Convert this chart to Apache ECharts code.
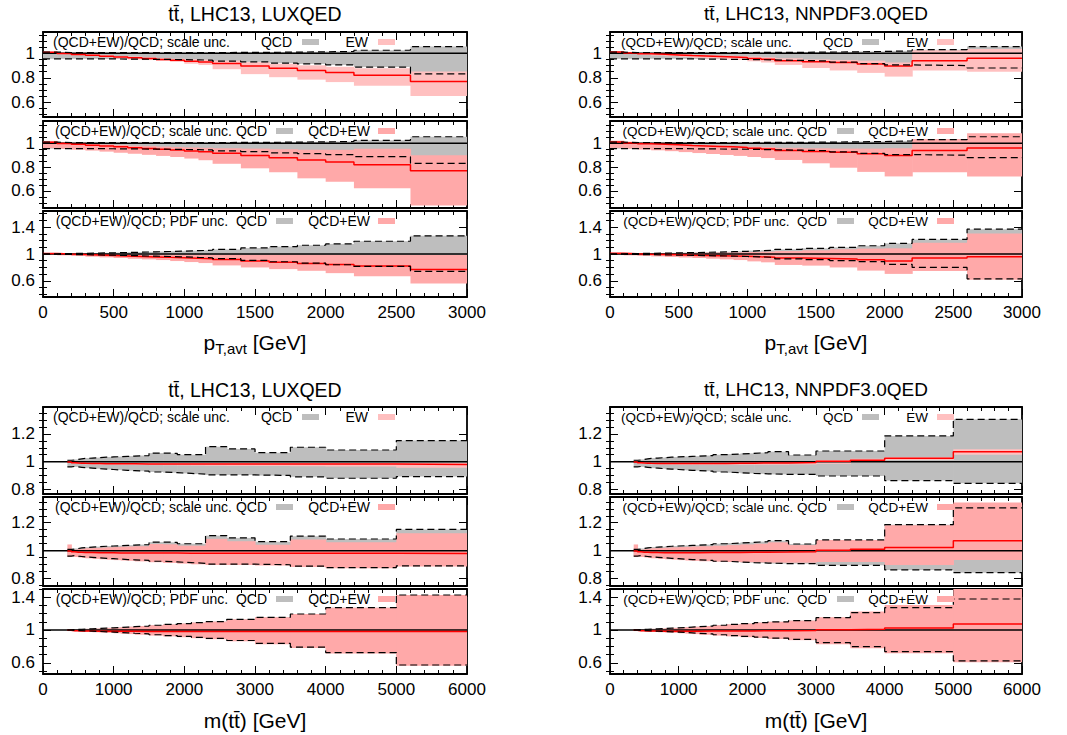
<!DOCTYPE html>
<html><head><meta charset="utf-8">
<script src="https://cdn.jsdelivr.net/npm/echarts@6/dist/echarts.min.js"></script>
<style>html,body{margin:0;padding:0;background:#fff}#c{width:1067px;height:735px}</style>
</head><body><div id="c"></div>
<script>
// ---------------- DATA ----------------
const ptEdges = [0,100,200,300,400,500,600,700,800,900,1000,1100,1200,1400,1600,1800,2000,2200,2600,3000];
const mEdges = [345,400,450,500,550,600,700,800,900,1000,1100,1200,1300,1500,1700,1900,2100,2300,2600,3000,3500,4000,5000,6000];

// LUXQED, pT,avt
const luxPtCentral  = [1.008,0.999,0.991,0.984,0.977,0.970,0.963,0.957,0.950,0.944,0.936,0.929,0.917,0.897,0.878,0.860,0.843,0.820,0.770];
const luxPtScaleLo  = [0.955,0.955,0.955,0.955,0.954,0.953,0.952,0.951,0.950,0.948,0.946,0.944,0.936,0.930,0.920,0.913,0.905,0.888,0.832];
const luxPtScaleHi  = [1.010,1.006,1.005,1.005,1.005,1.005,1.005,1.005,1.005,1.006,1.006,1.006,1.007,1.008,1.010,1.012,1.015,1.025,1.055];
const luxPtEwLo     = [1.000,0.992,0.984,0.976,0.968,0.960,0.952,0.945,0.938,0.931,0.915,0.905,0.870,0.830,0.805,0.785,0.765,0.735,0.652];
const luxPtEwHi     = [1.014,1.005,0.998,0.991,0.985,0.979,0.973,0.967,0.961,0.956,0.952,0.948,0.940,0.928,0.915,0.902,0.890,0.878,0.852];
const luxPtScaleEwLo= [0.960,0.953,0.946,0.939,0.930,0.921,0.912,0.903,0.894,0.885,0.872,0.858,0.828,0.790,0.757,0.706,0.678,0.622,0.477];
const luxPtScaleEwHi= [1.020,1.010,1.002,0.996,0.990,0.985,0.980,0.976,0.972,0.968,0.965,0.962,0.958,0.955,0.950,0.946,0.945,0.955,0.900];
const luxPtPdfLo    = [0.996,0.993,0.990,0.986,0.982,0.978,0.973,0.968,0.963,0.957,0.950,0.944,0.930,0.905,0.885,0.865,0.840,0.815,0.740];
const luxPtPdfHi    = [1.004,1.007,1.010,1.014,1.018,1.022,1.027,1.032,1.037,1.043,1.050,1.056,1.068,1.090,1.110,1.130,1.150,1.190,1.270];
const luxPtPdfEwLo  = [0.990,0.980,0.970,0.960,0.950,0.940,0.930,0.920,0.910,0.895,0.880,0.865,0.830,0.800,0.775,0.750,0.715,0.670,0.560];
const luxPtPdfEwHi  = [1.010,1.004,1.000,0.998,0.996,0.994,0.992,0.990,0.990,0.990,0.990,0.990,0.990,0.990,0.990,0.990,0.990,0.990,0.985];

// NNPDF3.0QED, pT,avt
const nnPtCentral   = [1.010,1.003,0.997,0.992,0.987,0.982,0.978,0.974,0.970,0.965,0.958,0.952,0.940,0.932,0.924,0.913,0.897,0.940,0.960];
const nnPtScaleLo   = [0.955,0.955,0.955,0.955,0.955,0.954,0.953,0.952,0.951,0.950,0.948,0.946,0.942,0.937,0.928,0.915,0.905,0.900,0.880];
const nnPtScaleHi   = [1.010,1.006,1.005,1.005,1.005,1.005,1.005,1.005,1.006,1.006,1.007,1.007,1.008,1.010,1.012,1.015,1.020,1.030,1.055];
const nnPtEwLo      = [1.002,0.995,0.988,0.982,0.976,0.970,0.964,0.958,0.952,0.946,0.935,0.925,0.905,0.880,0.860,0.840,0.810,0.860,0.850];
const nnPtEwHi      = [1.016,1.008,1.002,0.998,0.994,0.990,0.987,0.984,0.981,0.978,0.973,0.968,0.960,0.950,0.946,0.940,0.925,1.025,1.035];
const nnPtScaleEwLo = [0.962,0.955,0.948,0.941,0.934,0.926,0.918,0.910,0.902,0.894,0.885,0.876,0.860,0.832,0.795,0.760,0.722,0.758,0.722];
const nnPtScaleEwHi = [1.022,1.013,1.006,1.000,0.995,0.991,0.987,0.983,0.980,0.977,0.972,0.968,0.962,0.958,0.955,0.955,0.958,1.036,1.084];
const nnPtPdfLo     = [0.996,0.993,0.990,0.987,0.984,0.980,0.976,0.972,0.968,0.963,0.957,0.950,0.926,0.915,0.900,0.886,0.847,0.800,0.630];
const nnPtPdfHi     = [1.004,1.007,1.010,1.013,1.017,1.021,1.025,1.029,1.034,1.040,1.050,1.056,1.069,1.084,1.099,1.123,1.158,1.217,1.370];
const nnPtPdfEwLo   = [0.990,0.980,0.972,0.964,0.956,0.948,0.940,0.930,0.920,0.910,0.890,0.876,0.837,0.827,0.800,0.753,0.704,0.748,0.615];
const nnPtPdfEwHi   = [1.012,1.010,1.010,1.012,1.014,1.016,1.018,1.020,1.022,1.025,1.030,1.035,1.045,1.055,1.070,1.080,1.084,1.168,1.306];

// LUXQED, m(tt)
const luxMCentral   = [0.998,0.992,0.990,0.989,0.988,0.987,0.986,0.985,0.985,0.984,0.984,0.984,0.983,0.983,0.983,0.982,0.982,0.982,0.982,0.982,0.982,0.982,0.980];
const luxMScaleLo   = [0.962,0.965,0.962,0.959,0.956,0.953,0.949,0.946,0.943,0.940,0.937,0.935,0.931,0.925,0.920,0.915,0.910,0.904,0.904,0.900,0.890,0.880,0.892];
const luxMScaleHi   = [1.010,1.012,1.016,1.020,1.023,1.026,1.029,1.032,1.034,1.036,1.038,1.040,1.044,1.062,1.060,1.050,1.050,1.108,1.092,1.065,1.104,1.084,1.152];
const luxMEwLo      = [0.990,0.986,0.984,0.983,0.982,0.981,0.980,0.979,0.978,0.977,0.976,0.976,0.975,0.974,0.973,0.972,0.971,0.970,0.969,0.968,0.966,0.964,0.955];
const luxMEwHi      = [1.004,0.997,0.995,0.994,0.993,0.993,0.992,0.992,0.992,0.991,0.991,0.991,0.991,0.991,0.991,0.991,0.991,0.991,0.991,0.991,0.991,0.991,0.990];
const luxMScaleEwLo = [0.955,0.958,0.955,0.952,0.949,0.946,0.942,0.939,0.936,0.933,0.930,0.928,0.924,0.918,0.913,0.908,0.903,0.898,0.898,0.894,0.884,0.875,0.887];
const luxMScaleEwHi = [1.045,1.005,1.008,1.012,1.015,1.018,1.020,1.022,1.024,1.026,1.028,1.030,1.032,1.048,1.046,1.036,1.036,1.085,1.068,1.042,1.080,1.060,1.125];
const luxMPdfLo     = [0.997,0.995,0.993,0.991,0.989,0.986,0.982,0.978,0.974,0.970,0.965,0.960,0.952,0.942,0.932,0.922,0.910,0.898,0.872,0.837,0.790,0.724,0.573];
const luxMPdfHi     = [1.003,1.005,1.007,1.009,1.011,1.014,1.018,1.022,1.026,1.030,1.035,1.040,1.048,1.058,1.068,1.078,1.090,1.102,1.130,1.154,1.195,1.272,1.427];
const luxMPdfEwLo   = [0.987,0.985,0.983,0.981,0.979,0.976,0.972,0.968,0.964,0.960,0.955,0.950,0.942,0.932,0.922,0.912,0.900,0.888,0.862,0.827,0.780,0.714,0.563];
const luxMPdfEwHi   = [1.003,1.005,1.007,1.009,1.011,1.014,1.018,1.022,1.026,1.030,1.035,1.040,1.048,1.058,1.068,1.078,1.090,1.102,1.130,1.154,1.195,1.272,1.427];

// NNPDF3.0QED, m(tt)
const nnMCentral    = [0.998,0.992,0.990,0.989,0.988,0.987,0.986,0.986,0.986,0.986,0.986,0.986,0.987,0.987,0.988,0.989,0.990,0.991,0.993,1.003,1.010,1.024,1.072];
const nnMScaleLo    = [0.962,0.965,0.962,0.959,0.956,0.953,0.949,0.946,0.943,0.940,0.937,0.935,0.931,0.925,0.920,0.915,0.912,0.908,0.908,0.896,0.896,0.863,0.843];
const nnMScaleHi    = [1.010,1.012,1.016,1.020,1.023,1.026,1.029,1.032,1.034,1.036,1.038,1.040,1.044,1.050,1.055,1.060,1.065,1.072,1.048,1.077,1.077,1.186,1.306];
const nnMEwLo       = [0.990,0.986,0.984,0.983,0.982,0.981,0.980,0.979,0.979,0.978,0.978,0.978,0.978,0.978,0.978,0.978,0.978,0.978,0.980,0.985,0.995,1.012,1.050];
const nnMEwHi       = [1.004,0.997,0.995,0.994,0.994,0.993,0.993,0.993,0.993,0.993,0.993,0.994,0.995,0.996,0.997,0.998,0.999,1.000,1.002,1.012,1.020,1.032,1.090];
const nnMScaleEwLo  = [0.955,0.958,0.955,0.952,0.949,0.946,0.942,0.939,0.936,0.933,0.930,0.928,0.925,0.922,0.920,0.918,0.917,0.915,0.915,0.920,0.920,0.898,0.933];
const nnMScaleEwHi  = [1.045,1.005,1.008,1.012,1.015,1.018,1.020,1.022,1.024,1.026,1.028,1.030,1.032,1.036,1.040,1.045,1.050,1.060,1.040,1.076,1.076,1.183,1.345];
const nnMPdfLo      = [0.997,0.995,0.993,0.991,0.989,0.986,0.982,0.978,0.974,0.970,0.965,0.960,0.952,0.942,0.932,0.922,0.912,0.900,0.886,0.846,0.797,0.736,0.622];
const nnMPdfHi      = [1.003,1.005,1.007,1.009,1.011,1.014,1.018,1.022,1.026,1.030,1.035,1.040,1.048,1.058,1.068,1.078,1.090,1.100,1.114,1.150,1.211,1.272,1.378];
const nnMPdfEwLo    = [0.987,0.985,0.983,0.981,0.979,0.976,0.972,0.968,0.964,0.960,0.955,0.950,0.942,0.932,0.922,0.912,0.902,0.890,0.876,0.825,0.776,0.715,0.606];
const nnMPdfEwHi    = [1.003,1.005,1.007,1.009,1.011,1.014,1.018,1.022,1.026,1.030,1.035,1.040,1.048,1.058,1.068,1.078,1.090,1.100,1.114,1.154,1.224,1.305,1.516];

const titles = ['tt\u0304, LHC13, LUXQED', 'tt\u0304, LHC13, NNPDF3.0QED'];
const subLabels = ['(QCD+EW)/QCD; scale unc.', '(QCD+EW)/QCD; scale unc. QCD', '(QCD+EW)/QCD; PDF unc.  QCD'];
const keyQCD = 'QCD', keyEW = 'EW', keyQCDEW = 'QCD+EW';

// ---------------- STYLE / LAYOUT ----------------
const FONT = '"Liberation Sans", Arial, Helvetica, sans-serif';
const GRAY = '#bebebe', PINK_EW = '#ffc0c0', PINK = '#ffa9a9', RED = '#ff0000';
const TICK_FS = 17, NAME_FS = 21;

const subsTop = [
  {top:32,  bottom:117, min:0.48,  max:1.174, major:[0.6,0.8,1], minor:0.05},
  {top:121, bottom:208, min:0.457, max:1.187, major:[0.6,0.8,1], minor:0.05},
  {top:211, bottom:297, min:0.36,  max:1.64,  major:[0.6,1,1.4], minor:0.1}
];
const subsBot = [
  {top:407, bottom:494, min:0.766, max:1.395, major:[0.8,1,1.2], minor:0.05},
  {top:497, bottom:586, min:0.748, max:1.384, major:[0.8,1,1.2], minor:0.05},
  {top:589, bottom:674, min:0.463, max:1.5,   major:[0.6,1,1.4], minor:0.1}
];
const keyLeft  = {fs:14,   x0:10, qcd1:249, box1:259, ew1:325, boxE:335, qcd2:224, box2:233, ew2:327, bw:17};
const keyRight = {fs:13.5, x0:11, qcd1:243, box1:252, ew1:318, boxE:327, qcd2:217, box2:227, ew2:318, bw:17};

const panels = [
  {left:43,  width:424, subs:subsTop, edges:ptEdges, xMax:3000, xInt:500, title:titles[0], tfs:19.5, titleTop:4, key:keyLeft, xname:'pt', gap:32,
   c:luxPtCentral, sLo:luxPtScaleLo, sHi:luxPtScaleHi, eLo:luxPtEwLo, eHi:luxPtEwHi, seLo:luxPtScaleEwLo, seHi:luxPtScaleEwHi,
   pLo:luxPtPdfLo, pHi:luxPtPdfHi, peLo:luxPtPdfEwLo, peHi:luxPtPdfEwHi},
  {left:610, width:412, subs:subsTop, edges:ptEdges, xMax:3000, xInt:500, title:titles[1], tfs:19, titleTop:4, key:keyRight, xname:'pt', gap:32,
   c:nnPtCentral, sLo:nnPtScaleLo, sHi:nnPtScaleHi, eLo:nnPtEwLo, eHi:nnPtEwHi, seLo:nnPtScaleEwLo, seHi:nnPtScaleEwHi,
   pLo:nnPtPdfLo, pHi:nnPtPdfHi, peLo:nnPtPdfEwLo, peHi:nnPtPdfEwHi},
  {left:43,  width:424, subs:subsBot, edges:mEdges, xMax:6000, xInt:1000, title:titles[0], tfs:19.5, titleTop:380, key:keyLeft, xname:'m', gap:36,
   c:luxMCentral, sLo:luxMScaleLo, sHi:luxMScaleHi, eLo:luxMEwLo, eHi:luxMEwHi, seLo:luxMScaleEwLo, seHi:luxMScaleEwHi,
   pLo:luxMPdfLo, pHi:luxMPdfHi, peLo:luxMPdfEwLo, peHi:luxMPdfEwHi},
  {left:610, width:412, subs:subsBot, edges:mEdges, xMax:6000, xInt:1000, title:titles[1], tfs:19, titleTop:380, key:keyRight, xname:'m', gap:36,
   c:nnMCentral, sLo:nnMScaleLo, sHi:nnMScaleHi, eLo:nnMEwLo, eHi:nnMEwHi, seLo:nnMScaleEwLo, seHi:nnMScaleEwHi,
   pLo:nnMPdfLo, pHi:nnMPdfHi, peLo:nnMPdfEwLo, peHi:nnMPdfEwHi}
];

// ---------------- BUILD ----------------
function stepData(edges, vals) {
  const d = vals.map((v, i) => [edges[i], v]);
  d.push([edges[edges.length - 1], vals[vals.length - 1]]);
  return d;
}
function bandData(edges, lo, hi) {
  return lo.map((l, i) => [edges[i], edges[i + 1], l, hi[i]]);
}
function bandRender(color) {
  return function (params, api) {
    const p0 = api.coord([api.value(0), api.value(3)]);
    const p1 = api.coord([api.value(1), api.value(2)]);
    const cs = params.coordSys;
    const shape = echarts.graphic.clipRectByRect(
      {x: p0[0], y: p0[1], width: p1[0] - p0[0] + 0.6, height: p1[1] - p0[1]},
      {x: cs.x, y: cs.y, width: cs.width, height: cs.height});
    return shape && {type: 'rect', shape: shape, style: {fill: color}};
  };
}
const fmtY = v => String(Math.round(v * 100) / 100);
const fmtX = v => String(Math.round(v));

const grid = [], xAxis = [], yAxis = [], series = [], title = [], elements = [];
const axisLine = {show: true, onZero: false, lineStyle: {color: '#000', width: 1.8}};
const labelStyle = {color: '#000', fontSize: TICK_FS, fontFamily: FONT};

panels.forEach(p => {
  title.push({text: p.title, left: p.left + p.width / 2, top: p.titleTop, textAlign: 'center', padding: 0,
    textStyle: {fontSize: p.tfs, fontWeight: 'normal', fontFamily: FONT, color: '#000'}});
  p.subs.forEach((s, si) => {
    const g = grid.length;
    grid.push({left: p.left, top: s.top, width: p.width, height: s.bottom - s.top});
    const xi = xAxis.length;
    const xBase = {gridIndex: g, type: 'value', min: 0, max: p.xMax, interval: p.xInt,
      axisLine: axisLine, splitLine: {show: false},
      axisTick: {show: true, inside: true, length: 8, lineStyle: {color: '#000', width: 1}},
      minorTick: {show: true, splitNumber: 5, length: 4, lineStyle: {color: '#000', width: 1}}};
    const xb = Object.assign({}, xBase, {position: 'bottom',
      axisLabel: Object.assign({show: si === 2, margin: 7, formatter: fmtX}, labelStyle)});
    if (si === 2) {
      xb.nameLocation = 'middle';
      xb.nameGap = p.gap;
      if (p.xname === 'pt') {
        xb.name = '{a|p}{s|T,avt}{a| [GeV]}';
        xb.nameTextStyle = {rich: {a: {fontSize: NAME_FS, fontFamily: FONT, color: '#000'},
                                   s: {fontSize: 15, fontFamily: FONT, color: '#000', padding: [12, 0, 0, 0]}}};
      } else {
        xb.name = 'm(tt\u0304) [GeV]';
        xb.nameTextStyle = {fontSize: NAME_FS, fontFamily: FONT, color: '#000'};
      }
    }
    xAxis.push(xb);
    xAxis.push(Object.assign({}, xBase, {position: 'top', axisLabel: {show: false}}));

    const minorVals = [];
    for (let v = Math.ceil(s.min / s.minor - 1e-9) * s.minor; v <= s.max + 1e-9; v += s.minor) {
      const r = Math.round(v * 1000) / 1000;
      if (!s.major.some(m => Math.abs(m - r) < 1e-6)) minorVals.push(r);
    }
    const yi = yAxis.length;
    ['left', 'right'].forEach(pos => {
      yAxis.push({gridIndex: g, type: 'value', position: pos, min: s.min, max: s.max,
        axisLine: axisLine, splitLine: {show: false},
        axisTick: {show: true, inside: true, length: 8, customValues: s.major, lineStyle: {color: '#000', width: 1}},
        axisLabel: Object.assign({show: pos === 'left', customValues: s.major, formatter: fmtY, margin: 8}, labelStyle)});
      yAxis.push({gridIndex: g, type: 'value', position: pos, min: s.min, max: s.max,
        axisLine: {show: false}, splitLine: {show: false},
        axisTick: {show: true, inside: true, length: 4, customValues: minorVals, lineStyle: {color: '#000', width: 1}},
        axisLabel: {show: false}});
    });

    let gLo, gHi, kLo, kHi, kCol;
    if (si === 0) { gLo = p.sLo; gHi = p.sHi; kLo = p.eLo;  kHi = p.eHi;  kCol = PINK_EW; }
    if (si === 1) { gLo = p.sLo; gHi = p.sHi; kLo = p.seLo; kHi = p.seHi; kCol = PINK; }
    if (si === 2) { gLo = p.pLo; gHi = p.pHi; kLo = p.peLo; kHi = p.peHi; kCol = PINK; }
    const common = {xAxisIndex: xi, yAxisIndex: yi, silent: true, animation: false};
    series.push(Object.assign({type: 'custom', renderItem: bandRender(GRAY), data: bandData(p.edges, gLo, gHi),
      encode: {x: [0, 1], y: [2, 3]}, z: 1}, common));
    series.push(Object.assign({type: 'custom', renderItem: bandRender(kCol), data: bandData(p.edges, kLo, kHi),
      encode: {x: [0, 1], y: [2, 3]}, z: 2}, common));
    series.push(Object.assign({type: 'line', data: [[0, 1], [p.xMax, 1]], showSymbol: false, symbol: 'none',
      lineStyle: {color: '#000', width: 1.5}, z: 3}, common));
    series.push(Object.assign({type: 'line', data: stepData(p.edges, p.c), step: 'end', showSymbol: false, symbol: 'none',
      lineStyle: {color: RED, width: 1.5}, z: 4}, common));
    [gLo, gHi].forEach(arr => series.push(Object.assign({type: 'line', data: stepData(p.edges, arr), step: 'end',
      showSymbol: false, symbol: 'none', lineStyle: {color: '#000', width: 1.2, type: [7, 4]}, z: 5}, common)));

    // key
    const k = p.key, ky = s.top + 10, L = p.left;
    const txt = (text, x, align) => ({type: 'text', x: x, y: ky, z: 50,
      style: {text: text, textAlign: align, textVerticalAlign: 'middle', fontSize: k.fs, fontFamily: FONT, fill: '#000'}});
    const box = (x, col) => ({type: 'rect', z: 50, shape: {x: x, y: ky - 3, width: k.bw, height: 6}, style: {fill: col}});
    if (si === 0) {
      elements.push(txt(subLabels[0], L + k.x0, 'left'));
      elements.push(txt(keyQCD, L + k.qcd1, 'right'));
      elements.push(box(L + k.box1, GRAY));
      elements.push(txt(keyEW, L + k.ew1, 'right'));
      elements.push(box(L + k.boxE, PINK_EW));
    } else {
      elements.push(txt(subLabels[si], L + k.qcd2, 'right'));
      elements.push(box(L + k.box2, GRAY));
      elements.push(txt(keyQCDEW, L + k.ew2, 'right'));
      elements.push(box(L + k.boxE, PINK));
    }
  });
});

const chart = echarts.init(document.getElementById('c'), null, {renderer: 'svg', width: 1067, height: 735});
chart.setOption({animation: false, backgroundColor: '#fff', title, grid, xAxis, yAxis, series, graphic: {elements}});
</script></body></html>
